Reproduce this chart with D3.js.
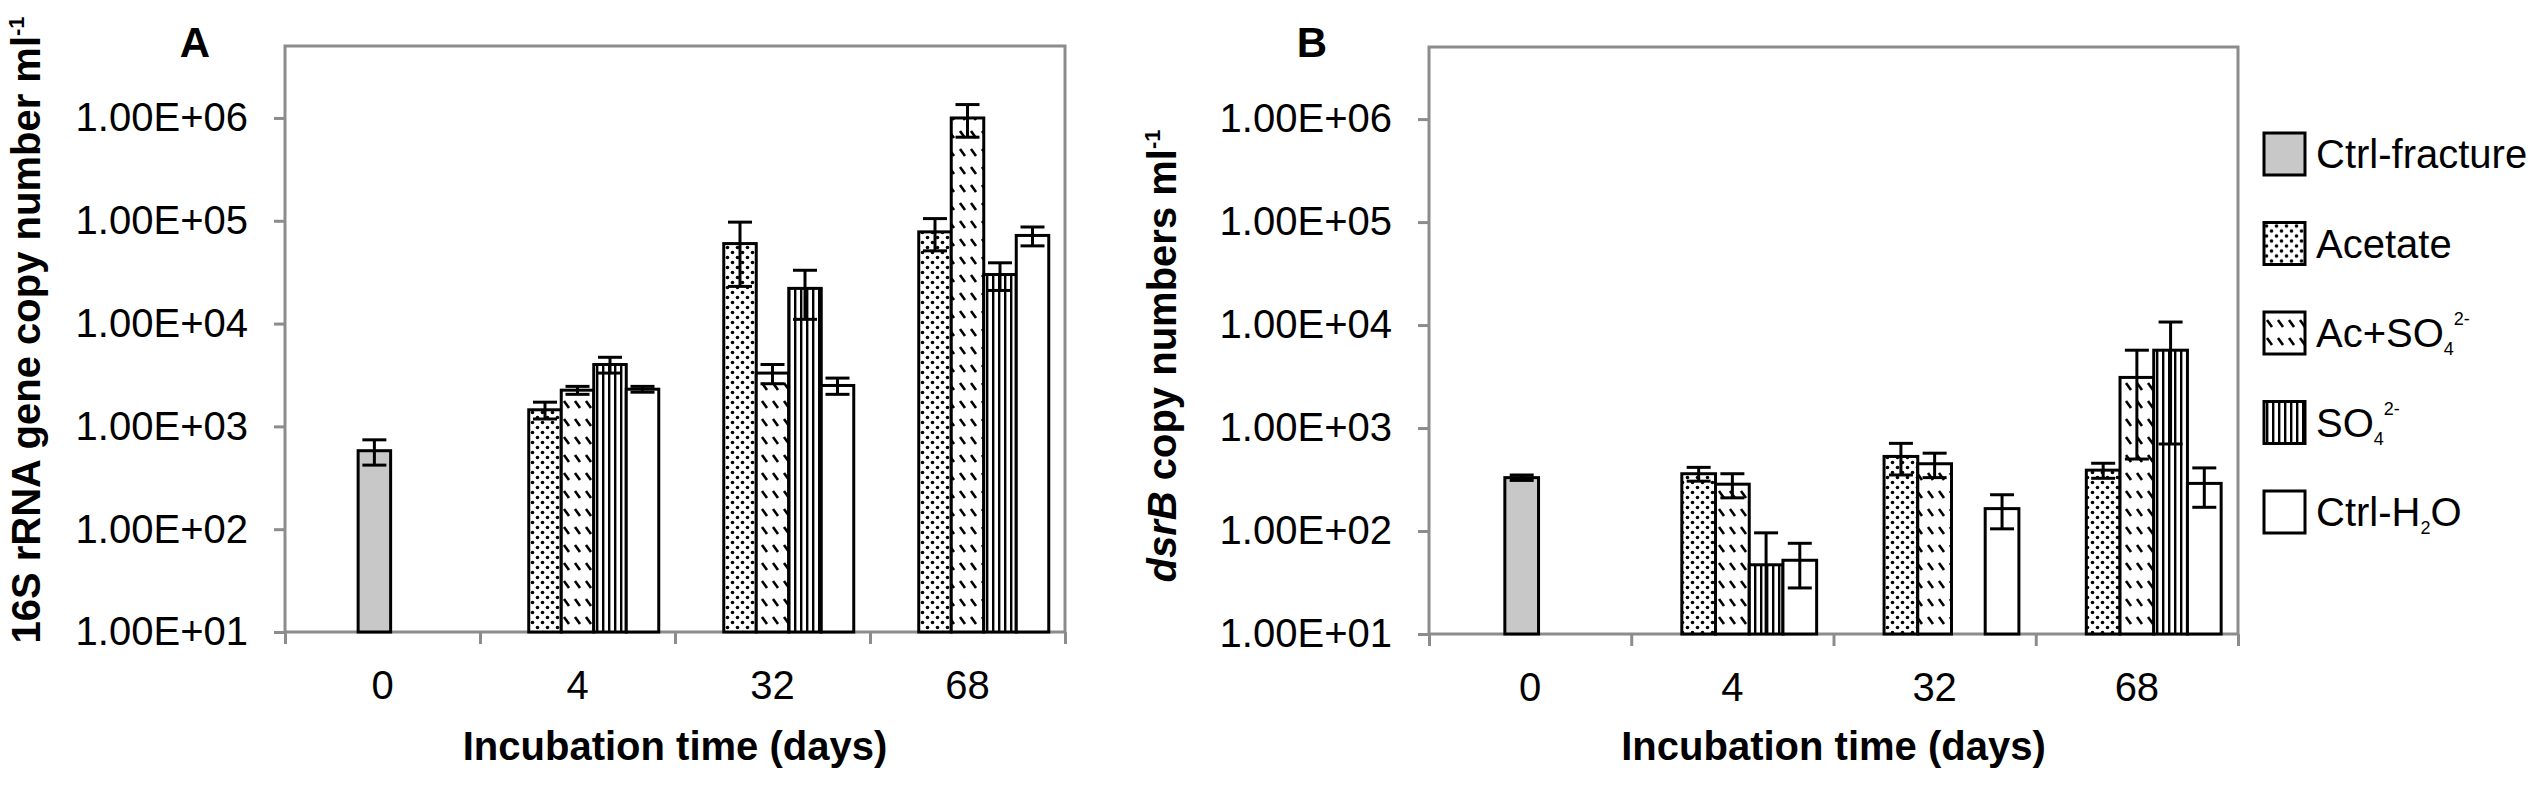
<!DOCTYPE html>
<html>
<head>
<meta charset="utf-8">
<script src="https://cdnjs.cloudflare.com/ajax/libs/d3/7.8.5/d3.min.js"></script>
<style>
  body { margin: 0; background: #fff; }
  svg { display: block; }
  text { font-family: "Liberation Sans", Arial, sans-serif; fill: #000; }
</style>
</head>
<body>
<div id="chart"></div>
<script>
// ---- data ----
var days = ["0", "4", "32", "68"];
var seriesKeys = ["ctrlFracture", "acetate", "acSO4", "so4", "ctrlH2O"];
var yTickValues = [1e1, 1e2, 1e3, 1e4, 1e5, 1e6];
var yTickLabels = ["1.00E+01", "1.00E+02", "1.00E+03", "1.00E+04", "1.00E+05", "1.00E+06"];

// panel A : 16S rRNA gene copies (null = no bar)
var rrnaCtrlFracture = [580, null, null, null];
var rrnaAcetate      = [null, 1450, 60000, 78000];
var rrnaAcSO4        = [null, 2250, 3300, 1000000];
var rrnaSO4          = [null, 4000, 22000, 30000];
var rrnaCtrlH2O      = [null, 2300, 2500, 72000];
var rrnaCtrlFractureErr = [160, null, null, null];
var rrnaAcetateErr      = [null, 270, 37000, 27000];
var rrnaAcSO4Err        = [null, 200, 700, 350000];
var rrnaSO4Err          = [null, 700, 11000, 9000];
var rrnaCtrlH2OErr      = [null, 150, 450, 15000];

// panel B : dsrB copies
var dsrCtrlFracture = [330, null, null, null];
var dsrAcetate      = [null, 360, 530, 390];
var dsrAcSO4        = [null, 285, 450, 3100];
var dsrSO4          = [null, 47, null, 5700];
var dsrCtrlH2O      = [null, 52, 165, 290];
var dsrCtrlFractureErr = [20, null, null, null];
var dsrAcetateErr      = [null, 55, 180, 65];
var dsrAcSO4Err        = [null, 75, 120, 2600];
var dsrSO4Err          = [null, 49, null, 5000];
var dsrCtrlH2OErr      = [null, 24, 60, 120];

// legend labels, split into [text, kind] parts for sub/superscripts
var legendLabels = [
  [["Ctrl-fracture", ""]],
  [["Acetate", ""]],
  [["Ac+SO", ""], ["4", "sub"], ["2-", "sup"]],
  [["SO", ""], ["4", "sub"], ["2-", "sup"]],
  [["Ctrl-H", ""], ["2", "sub"], ["O", ""]]
];

// ---- drawing ----
var svgWidth = 2540;
var svgHeight = 785;
var axisGrey = "#8c8c8c";

var svg = d3.select("#chart")
  .append("svg")
  .attr("width", svgWidth)
  .attr("height", svgHeight);

// fill patterns used by the bars
var defs = svg.append("defs");

var dots = defs.append("pattern").attr("id", "pat-acetate")
  .attr("patternUnits", "userSpaceOnUse").attr("width", 10).attr("height", 10);
dots.append("rect").attr("width", 10).attr("height", 10).attr("fill", "#fff");
dots.append("circle").attr("cx", 2.5).attr("cy", 2.5).attr("r", 1.8).attr("fill", "#000");
dots.append("circle").attr("cx", 7.5).attr("cy", 7.5).attr("r", 1.8).attr("fill", "#000");

var dash = defs.append("pattern").attr("id", "pat-acso4")
  .attr("patternUnits", "userSpaceOnUse").attr("width", 11).attr("height", 18);
dash.append("rect").attr("width", 11).attr("height", 18).attr("fill", "#fff");
dash.append("line").attr("x1", 3).attr("y1", 5).attr("x2", 8).attr("y2", 12)
  .attr("stroke", "#000").attr("stroke-width", 2.6);

var stripes = defs.append("pattern").attr("id", "pat-so4")
  .attr("patternUnits", "userSpaceOnUse").attr("width", 6).attr("height", 10);
stripes.append("rect").attr("width", 6).attr("height", 10).attr("fill", "#fff");
stripes.append("rect").attr("x", 2).attr("width", 2.4).attr("height", 10).attr("fill", "#000");

var fills = {
  ctrlFracture: "#c8c8c8",
  acetate: "url(#pat-acetate)",
  acSO4: "url(#pat-acso4)",
  so4: "url(#pat-so4)",
  ctrlH2O: "#fff"
};

function drawPanel(cfg, seriesList) {
  var g = svg.append("g");

  var x = d3.scaleBand().domain(days).range([cfg.left, cfg.right]);
  var bw = x.bandwidth() / 6;
  var slot = d3.scaleBand().domain(seriesKeys).range([bw / 2, x.bandwidth() - bw / 2]);
  var y = d3.scaleLog().domain([10, Math.pow(10, 6.7)]).range([cfg.bottom, cfg.top]);

  // plot frame
  g.append("rect")
    .attr("x", cfg.left).attr("y", cfg.top)
    .attr("width", cfg.right - cfg.left).attr("height", cfg.bottom - cfg.top)
    .attr("fill", "none").attr("stroke", axisGrey).attr("stroke-width", 3);

  function barX(key, day) {
    // the lone day-0 control bar sits near the middle of its group
    if (key === "ctrlFracture") return x(day) + x.bandwidth() / 2 - 0.75 * bw;
    return x(day) + slot(key);
  }

  var items = [];
  seriesList.forEach(function(s) {
    s.values.forEach(function(v, i) {
      if (v !== null) items.push({ key: s.key, day: days[i], value: v, err: s.errors[i] });
    });
  });

  g.selectAll("rect.bar")
    .data(items)
    .enter()
    .append("rect")
    .attr("class", "bar")
    .attr("x", d => barX(d.key, d.day))
    .attr("y", d => y(d.value))
    .attr("width", bw)
    .attr("height", d => cfg.bottom - y(d.value))
    .attr("fill", d => fills[d.key])
    .attr("stroke", "#000")
    .attr("stroke-width", 3);

  // error bars
  var capW = 24;
  var eb = g.selectAll("g.err").data(items).enter().append("g").attr("class", "err")
    .attr("stroke", "#000").attr("stroke-width", 3);
  eb.append("line")
    .attr("x1", d => barX(d.key, d.day) + bw / 2)
    .attr("x2", d => barX(d.key, d.day) + bw / 2)
    .attr("y1", d => y(d.value + d.err))
    .attr("y2", d => y(Math.max(d.value - d.err, 10)));
  eb.append("line")
    .attr("x1", d => barX(d.key, d.day) + bw / 2 - capW / 2)
    .attr("x2", d => barX(d.key, d.day) + bw / 2 + capW / 2)
    .attr("y1", d => y(d.value + d.err))
    .attr("y2", d => y(d.value + d.err));
  eb.filter(d => d.value - d.err > 10).append("line")
    .attr("x1", d => barX(d.key, d.day) + bw / 2 - capW / 2)
    .attr("x2", d => barX(d.key, d.day) + bw / 2 + capW / 2)
    .attr("y1", d => y(d.value - d.err))
    .attr("y2", d => y(d.value - d.err));

  // y axis
  var leftAxis = d3.axisLeft(y)
    .tickValues(yTickValues)
    .tickFormat((d, i) => yTickLabels[i])
    .tickSize(11)
    .tickPadding(26);
  var ya = g.append("g").attr("transform", `translate(${cfg.left},0)`).call(leftAxis);
  ya.select(".domain").remove();
  ya.selectAll("line").attr("stroke", axisGrey).attr("stroke-width", 3);
  ya.selectAll("text").attr("font-size", 40).attr("fill", "#000")
    .attr("font-family", "Liberation Sans, Arial, sans-serif");

  // x axis: ticks on the category boundaries, labels in the middle
  var edge = d3.scaleLinear().domain([0, days.length]).range([cfg.left, cfg.right]);
  var xt = g.append("g").attr("transform", `translate(0,${cfg.bottom})`)
    .call(d3.axisBottom(edge).tickValues(d3.range(days.length + 1)).tickFormat("").tickSize(12));
  xt.select(".domain").remove();
  xt.selectAll("line").attr("stroke", axisGrey).attr("stroke-width", 3);

  var xl = g.append("g").attr("transform", `translate(0,${cfg.bottom})`)
    .call(d3.axisBottom(x).tickSize(0).tickPadding(39));
  xl.select(".domain").remove();
  xl.selectAll("text").attr("font-size", 40).attr("fill", "#000")
    .attr("font-family", "Liberation Sans, Arial, sans-serif");

  // x title
  g.append("text")
    .attr("x", (cfg.left + cfg.right) / 2)
    .attr("y", 760)
    .attr("text-anchor", "middle")
    .attr("font-size", 40)
    .attr("font-weight", "bold")
    .text("Incubation time (days)");

  // panel letter
  g.append("text")
    .attr("x", cfg.letterX)
    .attr("y", 57)
    .attr("text-anchor", "middle")
    .attr("font-size", 42)
    .attr("font-weight", "bold")
    .text(cfg.letter);

  // y title
  var yt = g.append("text")
    .attr("transform", "rotate(-90)")
    .attr("x", -cfg.yTitleMid)
    .attr("y", cfg.yTitleX)
    .attr("text-anchor", "middle")
    .attr("font-size", 40)
    .attr("font-weight", "bold");
  cfg.yTitle.forEach(function(p) {
    var t = yt.append("tspan").text(p[0]);
    if (p[1] === "italic") t.attr("font-style", "italic");
    if (p[1] === "sup") t.attr("font-size", 22).attr("dy", -16);
  });
}

drawPanel(
  { left: 285, right: 1065, top: 46, bottom: 632, letter: "A", letterX: 195,
    yTitleX: 40, yTitleMid: 330,
    yTitle: [["16S rRNA gene copy number ml", ""], ["-1", "sup"]] },
  [
    { key: "ctrlFracture", values: rrnaCtrlFracture, errors: rrnaCtrlFractureErr },
    { key: "acetate", values: rrnaAcetate, errors: rrnaAcetateErr },
    { key: "acSO4", values: rrnaAcSO4, errors: rrnaAcSO4Err },
    { key: "so4", values: rrnaSO4, errors: rrnaSO4Err },
    { key: "ctrlH2O", values: rrnaCtrlH2O, errors: rrnaCtrlH2OErr }
  ]
);

drawPanel(
  { left: 1429, right: 2238, top: 47, bottom: 634, letter: "B", letterX: 1312,
    yTitleX: 1176, yTitleMid: 356,
    yTitle: [["dsrB", "italic"], [" copy numbers ml", ""], ["-1", "sup"]] },
  [
    { key: "ctrlFracture", values: dsrCtrlFracture, errors: dsrCtrlFractureErr },
    { key: "acetate", values: dsrAcetate, errors: dsrAcetateErr },
    { key: "acSO4", values: dsrAcSO4, errors: dsrAcSO4Err },
    { key: "so4", values: dsrSO4, errors: dsrSO4Err },
    { key: "ctrlH2O", values: dsrCtrlH2O, errors: dsrCtrlH2OErr }
  ]
);

// legend
var legend = svg.append("g").attr("transform", "translate(2264,154)");
var rows = legend.selectAll("g").data(seriesKeys).enter().append("g")
  .attr("transform", (d, i) => `translate(0,${i * 89.5})`);
rows.append("rect")
  .attr("x", 0).attr("y", -21)
  .attr("width", 41).attr("height", 42)
  .attr("fill", d => fills[d])
  .attr("stroke", "#000").attr("stroke-width", 3);
rows.append("text")
  .attr("x", 52).attr("y", 14)
  .attr("font-size", 40)
  .each(function(d, i) {
    var t = d3.select(this);
    var shift = 0;
    legendLabels[i].forEach(function(p) {
      var s = t.append("tspan").text(p[0]);
      if (p[1] === "sub") { s.attr("font-size", 18).attr("dy", 8 - shift); shift = 8; }
      else if (p[1] === "sup") { s.attr("font-size", 18).attr("dy", -22 - shift); shift = -22; }
      else if (shift !== 0) { s.attr("dy", -shift); shift = 0; }
    });
  });
</script>
</body>
</html>
